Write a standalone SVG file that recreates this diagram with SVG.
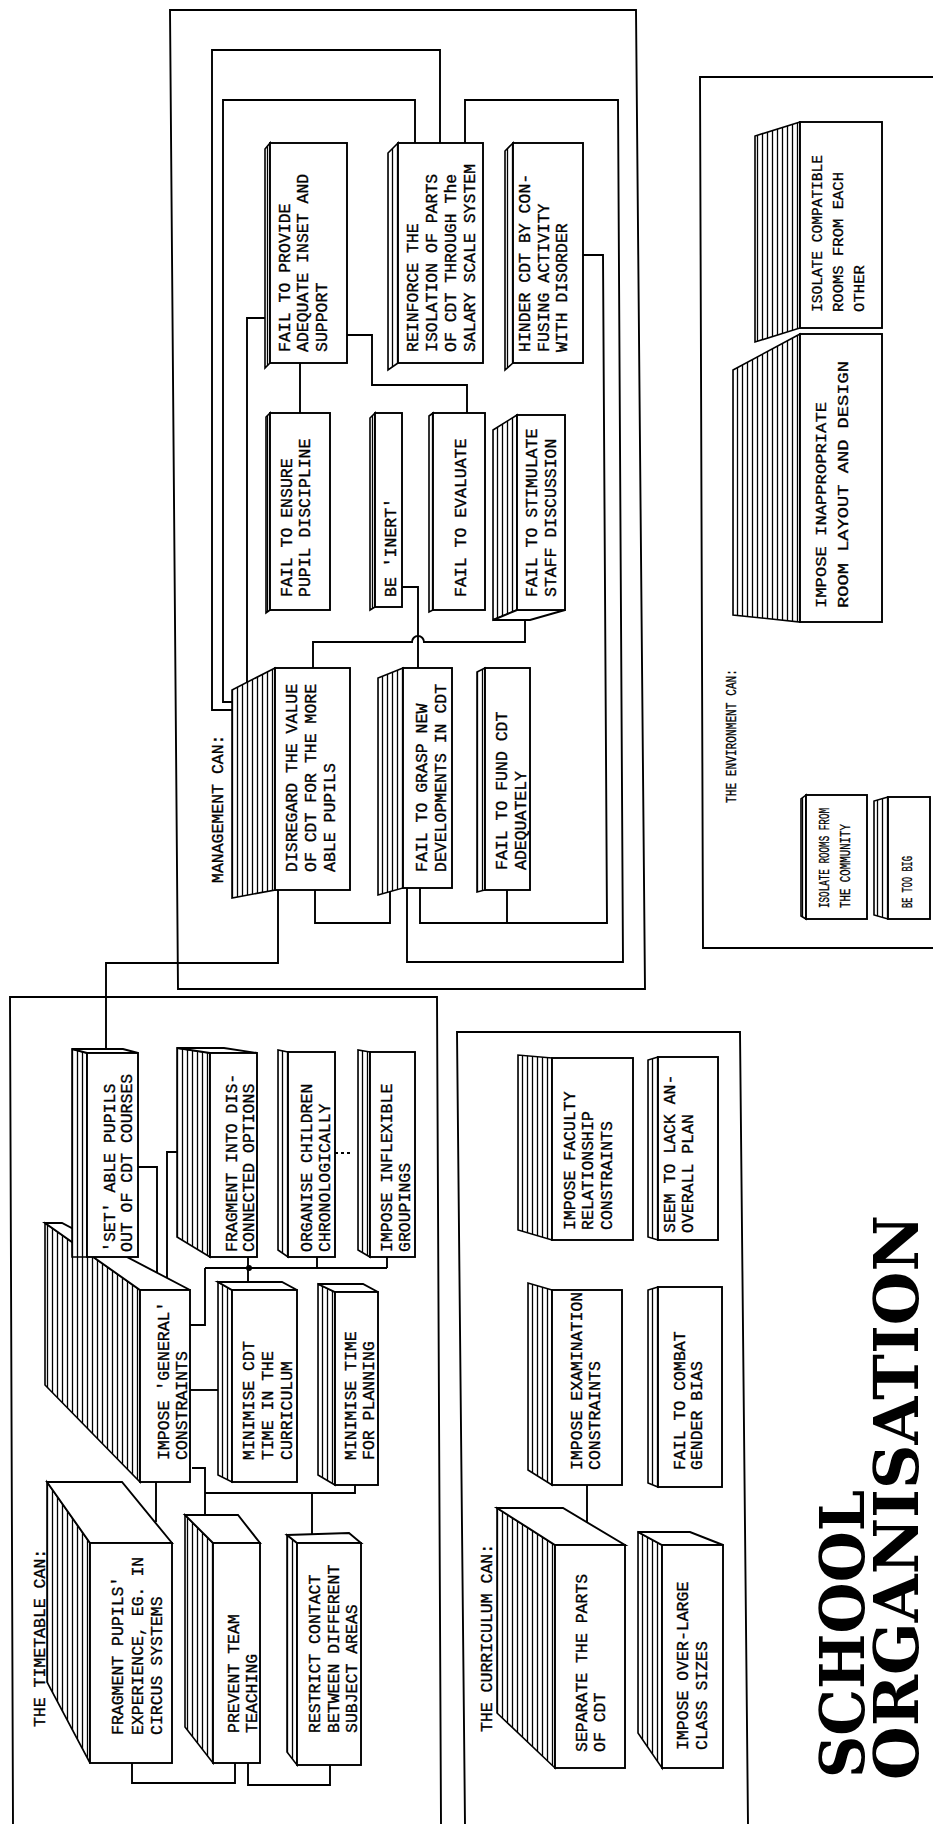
<svg xmlns="http://www.w3.org/2000/svg" width="933" height="1824" viewBox="0 0 933 1824">
<defs>
<pattern id="hatch" patternUnits="userSpaceOnUse" width="5" height="10">
<rect width="5" height="10" fill="#fff"/>
<line x1="2.5" y1="0" x2="2.5" y2="10" stroke="#000" stroke-width="1.3"/>
</pattern>
<style>
.f{fill:#fff;stroke:#000;stroke-width:1.9}
.s{fill:url(#hatch);stroke:#000;stroke-width:1.6}
.c{fill:none;stroke:#000;stroke-width:1.9}
.t{font-family:"Liberation Mono",monospace;font-size:16.5px;fill:#000;stroke:#000;stroke-width:0.35}
.e{font-family:"Liberation Mono",monospace;font-size:15px;fill:#000;stroke:#000;stroke-width:0.3}
.title{font-family:"DejaVu Serif",serif;font-weight:bold;fill:#000}
</style>
</defs>
<rect width="933" height="1824" fill="#fff"/>

<g id="frames">
<path class="c" d="M170,10 H636 L645,989 H178 Z"/>
<path class="c" d="M933,77 H700 L703,948 H933"/>
<path class="c" d="M13,1824 L10,997 H437 L441,1824"/>
<path class="c" d="M465,1824 L457,1032 H740 L748,1824"/>
</g>

<g id="connectors">
<path class="c" d="M440,143 V50 H212 V710 H232"/>
<path class="c" d="M415,143 V100 H223 V702 H232"/>
<path class="c" d="M270,318 H247 V682"/>
<path class="c" d="M465,143 V100 H618 L623,962 H407 V888"/>
<path class="c" d="M583,255 H603 L607,923 H420 V888"/>
<path class="c" d="M507,890 V923"/>
<path class="c" d="M300,363 V413"/>
<path class="c" d="M347,335 H372 V385 H467 V413"/>
<path class="c" d="M402,587 H418 V668"/>
<path class="c" d="M525,613 V642 H424 A6,6 0 0 0 412,642 H313 V668"/>
<path class="c" d="M278,890 V963 H106 V1053"/>
<path class="c" d="M315,890 V923 H390 V892"/>
<path class="c" d="M138,1167 H157 V1275"/>
<path class="c" d="M177,1152 H167 V1279"/>
<path class="c" d="M205,1268 H387"/>
<path class="c" d="M248,1257 V1287"/>
<path class="c" d="M317,1257 V1268"/>
<path class="c" d="M387,1257 V1268"/>
<path class="c" d="M205,1268 V1325 H190"/>
<circle cx="249" cy="1268" r="3" fill="#000"/>
<path class="c" d="M190,1390 H218"/>
<path class="c" d="M192,1468 H205 V1520"/>
<path class="c" d="M205,1493 H355 V1485"/>
<path class="c" d="M312,1493 V1536"/>
<path class="c" d="M156,1482 V1522"/>
<path class="c" d="M132,1763 V1783 H235 V1763"/>
<path class="c" d="M248,1763 V1785 H330 V1765"/>
<path class="c" d="M335,1153 H350" stroke-dasharray="3,3"/>
<path class="c" d="M587,1537 V1485"/>
</g>

<g id="labels">
<text class="t" transform="translate(223,883) rotate(-90)">MANAGEMENT CAN:</text>
<text class="t" transform="translate(45,1727) rotate(-90)">THE TIMETABLE CAN:</text>
<text class="t" transform="translate(492,1732) rotate(-90)">THE CURRICULUM CAN:</text>
<text class="e" transform="translate(736,803) rotate(-90)" textLength="134" lengthAdjust="spacingAndGlyphs">THE ENVIRONMENT CAN:</text>
</g>

<!-- Management -->
<g id="m_provide">
<polygon class="s" points="270,143 265,149 265,368 270,363"/>
<rect class="f" x="270" y="143" width="77" height="220"/>
<text class="t" transform="translate(290,352) rotate(-90)">FAIL TO PROVIDE</text>
<text class="t" transform="translate(308,352) rotate(-90)">ADEQUATE INSET AND</text>
<text class="t" transform="translate(327,352) rotate(-90)">SUPPORT</text>
</g>
<g id="m_reinforce">
<polygon class="s" points="398,143 388,153 388,370 398,363"/>
<rect class="f" x="398" y="143" width="85" height="220"/>
<text class="t" transform="translate(418,352) rotate(-90)">REINFORCE THE</text>
<text class="t" transform="translate(437,352) rotate(-90)">ISOLATION OF PARTS</text>
<text class="t" transform="translate(456,352) rotate(-90)">OF CDT THROUGH The</text>
<text class="t" transform="translate(475,352) rotate(-90)">SALARY SCALE SYSTEM</text>
</g>
<g id="m_hinder">
<polygon class="s" points="513,143 505,151 505,370 513,363"/>
<rect class="f" x="513" y="143" width="70" height="220"/>
<text class="t" transform="translate(530,352) rotate(-90)">HINDER CDT BY CON-</text>
<text class="t" transform="translate(549,352) rotate(-90)">FUSING ACTIVITY</text>
<text class="t" transform="translate(567,352) rotate(-90)">WITH DISORDER</text>
</g>
<g id="m_ensure">
<polygon class="s" points="270,413 266,417 266,613 270,610"/>
<rect class="f" x="270" y="413" width="60" height="197"/>
<text class="t" transform="translate(292,597) rotate(-90)">FAIL TO ENSURE</text>
<text class="t" transform="translate(310,597) rotate(-90)">PUPIL DISCIPLINE</text>
</g>
<g id="m_inert">
<polygon class="s" points="375,413 370,418 370,610 375,607"/>
<rect class="f" x="375" y="413" width="27" height="194"/>
<text class="t" transform="translate(396,597) rotate(-90)">BE 'INERT'</text>
</g>
<g id="m_evaluate">
<polygon class="s" points="433,413 429,416 429,612 433,610"/>
<rect class="f" x="433" y="413" width="52" height="197"/>
<text class="t" transform="translate(466,597) rotate(-90)">FAIL TO EVALUATE</text>
</g>
<g id="m_stimulate">
<polygon class="s" points="517,415 493,430 493,620 517,610"/>
<polygon class="f" points="493,620 530,620 565,610 517,610"/>
<rect class="f" x="517" y="415" width="48" height="195"/>
<text class="t" transform="translate(537,597) rotate(-90)">FAIL TO STIMULATE</text>
<text class="t" transform="translate(556,597) rotate(-90)">STAFF DISCUSSION</text>
</g>
<g id="m_disregard">
<polygon class="s" points="275,668 232,690 232,898 275,890"/>
<rect class="f" x="275" y="668" width="75" height="222"/>
<text class="t" transform="translate(297,872) rotate(-90)">DISREGARD THE VALUE</text>
<text class="t" transform="translate(316,872) rotate(-90)">OF CDT FOR THE MORE</text>
<text class="t" transform="translate(335,872) rotate(-90)">ABLE PUPILS</text>
</g>
<g id="m_grasp">
<polygon class="s" points="403,668 378,678 378,895 403,888"/>
<rect class="f" x="403" y="668" width="49" height="220"/>
<text class="t" transform="translate(427,872) rotate(-90)">FAIL TO GRASP NEW</text>
<text class="t" transform="translate(446,872) rotate(-90)">DEVELOPMENTS IN CDT</text>
</g>
<g id="m_fund">
<polygon class="s" points="485,668 477,672 477,892 485,890"/>
<rect class="f" x="485" y="668" width="45" height="222"/>
<text class="t" transform="translate(507,870) rotate(-90)">FAIL TO FUND CDT</text>
<text class="t" transform="translate(526,870) rotate(-90)">ADEQUATELY</text>
</g>

<!-- Timetable -->
<g id="t_general">
<polygon class="s" points="140,1290 45,1223 45,1385 140,1482"/>
<polygon class="f" points="45,1223 62,1223 190,1290 140,1290"/>
<rect class="f" x="140" y="1290" width="50" height="192"/>
<text class="t" transform="translate(169,1460) rotate(-90)">IMPOSE 'GENERAL'</text>
<text class="t" transform="translate(187,1460) rotate(-90)">CONSTRAINTS</text>
</g>
<g id="t_set">
<polygon class="s" points="87,1053 72,1049 72,1257 87,1257"/>
<polygon class="f" points="72,1049 123,1049 138,1053 87,1053"/>
<rect class="f" x="87" y="1053" width="51" height="204"/>
<text class="t" transform="translate(115,1252) rotate(-90)">'SET' ABLE PUPILS</text>
<text class="t" transform="translate(132,1252) rotate(-90)">OUT OF CDT COURSES</text>
</g>
<g id="t_fragopts">
<polygon class="s" points="210,1053 177,1048 177,1237 210,1257"/>
<polygon class="f" points="177,1048 224,1048 257,1053 210,1053"/>
<rect class="f" x="210" y="1053" width="47" height="204"/>
<text class="t" transform="translate(237,1252) rotate(-90)">FRAGMENT INTO DIS-</text>
<text class="t" transform="translate(254,1252) rotate(-90)">CONNECTED OPTIONS</text>
</g>
<g id="t_organise">
<polygon class="s" points="288,1052 278,1050 278,1250 288,1257"/>
<rect class="f" x="288" y="1052" width="47" height="205"/>
<text class="t" transform="translate(312,1252) rotate(-90)">ORGANISE CHILDREN</text>
<text class="t" transform="translate(330,1252) rotate(-90)">CHRONOLOGICALLY</text>
</g>
<g id="t_inflex">
<polygon class="s" points="370,1052 358,1050 358,1250 370,1257"/>
<rect class="f" x="370" y="1052" width="45" height="205"/>
<text class="t" transform="translate(392,1252) rotate(-90)">IMPOSE INFLEXIBLE</text>
<text class="t" transform="translate(410,1252) rotate(-90)">GROUPINGS</text>
</g>
<g id="t_mincdt">
<polygon class="s" points="232,1290 218,1282 218,1475 232,1482"/>
<polygon class="f" points="218,1282 282,1282 297,1290 232,1290"/>
<rect class="f" x="232" y="1290" width="65" height="192"/>
<text class="t" transform="translate(254,1460) rotate(-90)">MINIMISE CDT</text>
<text class="t" transform="translate(273,1460) rotate(-90)">TIME IN THE</text>
<text class="t" transform="translate(292,1460) rotate(-90)">CURRICULUM</text>
</g>
<g id="t_mintime">
<polygon class="s" points="335,1292 318,1284 318,1475 335,1485"/>
<polygon class="f" points="318,1284 363,1284 378,1292 335,1292"/>
<rect class="f" x="335" y="1292" width="43" height="193"/>
<text class="t" transform="translate(356,1460) rotate(-90)">MINIMISE TIME</text>
<text class="t" transform="translate(374,1460) rotate(-90)">FOR PLANNING</text>
</g>
<g id="t_fragpupils">
<polygon class="s" points="90,1543 47,1482 47,1682 90,1763"/>
<polygon class="f" points="47,1482 122,1482 172,1543 90,1543"/>
<rect class="f" x="90" y="1543" width="82" height="220"/>
<text class="t" transform="translate(123,1735) rotate(-90)">FRAGMENT PUPILS'</text>
<text class="t" transform="translate(143,1735) rotate(-90)">EXPERIENCE, EG. IN</text>
<text class="t" transform="translate(162,1735) rotate(-90)">CIRCUS SYSTEMS</text>
</g>
<g id="t_prevent">
<polygon class="s" points="213,1543 185,1515 185,1727 213,1763"/>
<polygon class="f" points="185,1515 238,1515 260,1543 213,1543"/>
<rect class="f" x="213" y="1543" width="47" height="220"/>
<text class="t" transform="translate(239,1733) rotate(-90)">PREVENT TEAM</text>
<text class="t" transform="translate(257,1733) rotate(-90)">TEACHING</text>
</g>
<g id="t_restrict">
<polygon class="s" points="297,1543 287,1535 287,1752 297,1765"/>
<polygon class="f" points="287,1535 349,1533 361,1543 297,1543"/>
<rect class="f" x="297" y="1543" width="64" height="222"/>
<text class="t" transform="translate(320,1733) rotate(-90)">RESTRICT CONTACT</text>
<text class="t" transform="translate(339,1733) rotate(-90)">BETWEEN DIFFERENT</text>
<text class="t" transform="translate(357,1733) rotate(-90)">SUBJECT AREAS</text>
</g>

<!-- Curriculum -->
<g id="c_faculty">
<polygon class="s" points="552,1058 518,1055 518,1230 552,1240"/>
<rect class="f" x="552" y="1058" width="81" height="182"/>
<text class="t" transform="translate(575,1230) rotate(-90)">IMPOSE FACULTY</text>
<text class="t" transform="translate(593,1230) rotate(-90)">RELATIONSHIP</text>
<text class="t" transform="translate(612,1230) rotate(-90)">CONSTRAINTS</text>
</g>
<g id="c_plan">
<polygon class="s" points="658,1057 648,1060 648,1237 658,1240"/>
<rect class="f" x="658" y="1057" width="60" height="183"/>
<text class="t" transform="translate(675,1233) rotate(-90)">SEEM TO LACK AN-</text>
<text class="t" transform="translate(693,1233) rotate(-90)">OVERALL PLAN</text>
</g>
<g id="c_exam">
<polygon class="s" points="552,1290 528,1283 528,1470 552,1485"/>
<rect class="f" x="552" y="1290" width="70" height="195"/>
<text class="t" transform="translate(582,1470) rotate(-90)">IMPOSE EXAMINATION</text>
<text class="t" transform="translate(600,1470) rotate(-90)">CONSTRAINTS</text>
</g>
<g id="c_gender">
<polygon class="s" points="658,1287 648,1290 648,1483 658,1487"/>
<rect class="f" x="658" y="1287" width="64" height="200"/>
<text class="t" transform="translate(685,1470) rotate(-90)">FAIL TO COMBAT</text>
<text class="t" transform="translate(702,1470) rotate(-90)">GENDER BIAS</text>
</g>
<g id="c_separate">
<polygon class="s" points="555,1545 497,1508 497,1713 555,1768"/>
<polygon class="f" points="497,1508 563,1508 625,1545 555,1545"/>
<rect class="f" x="555" y="1545" width="70" height="223"/>
<text class="t" transform="translate(587,1752) rotate(-90)">SEPARATE THE PARTS</text>
<text class="t" transform="translate(605,1752) rotate(-90)">OF CDT</text>
</g>
<g id="c_class">
<polygon class="s" points="662,1545 638,1532 638,1733 662,1768"/>
<polygon class="f" points="638,1532 690,1532 723,1545 662,1545"/>
<rect class="f" x="662" y="1545" width="61" height="223"/>
<text class="t" transform="translate(688,1750) rotate(-90)">IMPOSE OVER-LARGE</text>
<text class="t" transform="translate(707,1750) rotate(-90)">CLASS SIZES</text>
</g>

<!-- Environment -->
<g id="e_compat">
<polygon class="s" points="800,122 755,136 755,342 800,328"/>
<rect class="f" x="800" y="122" width="82" height="206"/>
<text class="e" transform="translate(822,312) rotate(-90)" textLength="157" lengthAdjust="spacingAndGlyphs">ISOLATE COMPATIBLE</text>
<text class="e" transform="translate(843,312) rotate(-90)" textLength="140" lengthAdjust="spacingAndGlyphs">ROOMS FROM EACH</text>
<text class="e" transform="translate(864,312) rotate(-90)" textLength="47" lengthAdjust="spacingAndGlyphs">OTHER</text>
</g>
<g id="e_layout">
<polygon class="s" points="800,334 733,370 733,615 800,622"/>
<rect class="f" x="800" y="334" width="82" height="288"/>
<text class="e" transform="translate(826,608) rotate(-90)" textLength="206" lengthAdjust="spacingAndGlyphs">IMPOSE INAPPROPRIATE</text>
<text class="e" transform="translate(848,608) rotate(-90)" textLength="247" lengthAdjust="spacingAndGlyphs">ROOM LAYOUT AND DESIGN</text>
</g>
<g id="e_rooms">
<polygon class="s" points="806,795 801,799 801,916 806,919"/>
<rect class="f" x="806" y="795" width="61" height="124"/>
<text class="e" transform="translate(829,908) rotate(-90)" textLength="100" lengthAdjust="spacingAndGlyphs">ISOLATE ROOMS FROM</text>
<text class="e" transform="translate(850,908) rotate(-90)" textLength="84" lengthAdjust="spacingAndGlyphs">THE COMMUNITY</text>
</g>
<g id="e_big">
<polygon class="s" points="888,797 874,801 874,915 888,919"/>
<rect class="f" x="888" y="797" width="42" height="122"/>
<text class="e" transform="translate(912,908) rotate(-90)" textLength="52" lengthAdjust="spacingAndGlyphs">BE TOO BIG</text>
</g>

<g id="title">
<text class="title" font-size="62" transform="translate(864,1778) rotate(-90)" textLength="288" lengthAdjust="spacingAndGlyphs">SCHOOL</text>
<text class="title" font-size="62" transform="translate(918,1780) rotate(-90)" textLength="565" lengthAdjust="spacingAndGlyphs">ORGANISATION</text>
</g>
</svg>
